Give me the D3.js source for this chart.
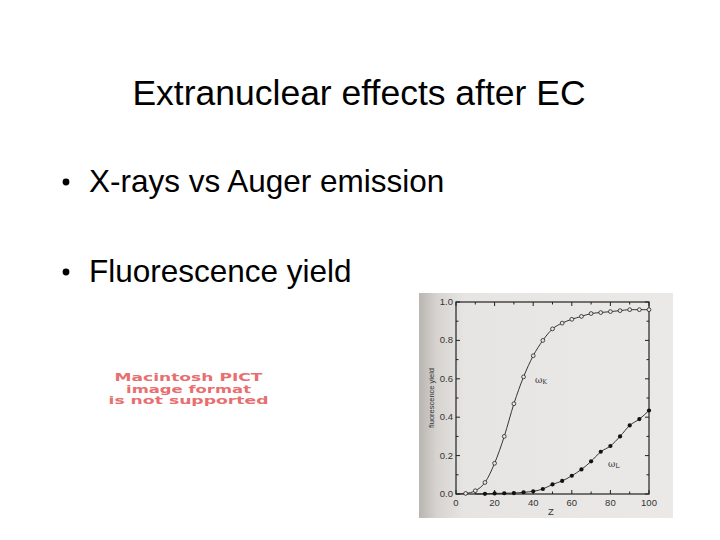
<!DOCTYPE html>
<html><head><meta charset="utf-8">
<script src="https://cdn.jsdelivr.net/npm/d3@7"></script>
<style>html,body{margin:0;padding:0;background:#fff;}svg{display:block;}</style>
</head><body>
<script>
const title = "Extranuclear effects after EC";
const bullets = ["X-rays vs Auger emission", "Fluorescence yield"];
const pictLines = ["Macintosh PICT", "image format", "is not supported"];

const zK = [5,10,15,20,25,30,35,40,45,50,55,60,65,70,75,80,85,90,95,100];
const omegaK = [0.003,0.017,0.06,0.16,0.30,0.47,0.61,0.72,0.80,0.86,0.89,0.91,0.925,0.94,0.945,0.95,0.955,0.96,0.96,0.96];
const zL = [15,20,25,30,35,40,45,50,55,60,65,70,75,80,85,90,95,100];
const omegaL = [0.001,0.003,0.004,0.005,0.009,0.014,0.026,0.05,0.068,0.095,0.128,0.17,0.22,0.25,0.30,0.357,0.39,0.435];
const xTicks = [0,20,40,60,80,100];
const yTicks = [0,0.2,0.4,0.6,0.8,1.0];

const W=720,H=540;
const svg = d3.select("body").append("svg").attr("width",W).attr("height",H);
svg.append("rect").attr("width",W).attr("height",H).attr("fill","#fff");

const font = "'Liberation Sans', Arial, sans-serif";
svg.append("text").attr("x",359).attr("y",105).attr("text-anchor","middle")
  .attr("font-family",font).attr("font-size",35.5).attr("fill","#000").text(title);

const by=[192,282];
bullets.forEach((b,i)=>{
  svg.append("circle").attr("cx",66).attr("cy",by[i]-10).attr("r",3.4).attr("fill","#000");
  svg.append("text").attr("x",89).attr("y",by[i]).attr("font-family",font).attr("font-size",31.5).attr("fill","#000").text(b);
});

const pb=[381,393,404];
const pw=[148,125,160];
pictLines.forEach((t,i)=>{
  svg.append("text").attr("x",188.5).attr("y",pb[i]).attr("text-anchor","middle")
    .attr("font-family","'DejaVu Sans', sans-serif").attr("font-weight","bold").attr("font-size",9.8)
    .attr("textLength",pw[i]).attr("lengthAdjust","spacingAndGlyphs")
    .attr("fill","#e86f6f").text(t);
});

// scanned figure background
const defs = svg.append("defs");
const grad = defs.append("linearGradient").attr("id","shade").attr("x1","0").attr("x2","1");
grad.append("stop").attr("offset","0").attr("stop-color","#b9b5b1");
grad.append("stop").attr("offset","0.07").attr("stop-color","#d6d3d0");
grad.append("stop").attr("offset","0.18").attr("stop-color","#e7e5e3");
grad.append("stop").attr("offset","1").attr("stop-color","#ebe9e7");
svg.append("rect").attr("x",419).attr("y",293).attr("width",254).attr("height",225).attr("fill","url(#shade)");

const x = d3.scaleLinear().domain([0,100]).range([456,649]);
const y = d3.scaleLinear().domain([0,1]).range([494,302]);
const g = svg.append("g");
g.append("rect").attr("x",x(0)).attr("y",y(1)).attr("width",x(100)-x(0)).attr("height",y(0)-y(1))
  .attr("fill","none").attr("stroke","#222").attr("stroke-width",1.2);

const sm = "'Liberation Sans', Arial, sans-serif";
const minorX = d3.range(0,101,10), minorY = d3.range(0,1.01,0.1);
minorX.forEach(v=>{
  const L = (v%20===0)?4:2.5;
  g.append("line").attr("x1",x(v)).attr("x2",x(v)).attr("y1",y(0)).attr("y2",y(0)-L).attr("stroke","#222");
  g.append("line").attr("x1",x(v)).attr("x2",x(v)).attr("y1",y(1)).attr("y2",y(1)+L).attr("stroke","#222");
});
minorY.forEach(v=>{
  const L = (Math.round(v*10)%2===0)?4:2.5;
  g.append("line").attr("x1",x(0)).attr("x2",x(0)+L).attr("y1",y(v)).attr("y2",y(v)).attr("stroke","#222");
  g.append("line").attr("x1",x(100)).attr("x2",x(100)-L).attr("y1",y(v)).attr("y2",y(v)).attr("stroke","#222");
});
xTicks.forEach(v=>{
  g.append("text").attr("x",x(v)).attr("y",506).attr("text-anchor","middle").attr("font-family",sm)
    .attr("font-size",9.5).attr("fill","#333").text(v);
});
yTicks.forEach(v=>{
  g.append("text").attr("x",x(0)-3).attr("y",y(v)+3).attr("text-anchor","end").attr("font-family",sm)
    .attr("font-size",9.5).attr("fill","#333").text(v.toFixed(1));
});
g.append("text").attr("x",551).attr("y",515).attr("text-anchor","middle").attr("font-family",sm)
  .attr("font-size",9.5).attr("fill","#333").text("Z");
g.append("text").attr("transform","translate(434,398) rotate(-90)").attr("text-anchor","middle")
  .attr("font-family",sm).attr("font-size",7.5).attr("fill","#333").text("fluorescence yield");

const line = d3.line().x(d=>x(d[0])).y(d=>y(d[1])).curve(d3.curveMonotoneX);
const dK = zK.map((z,i)=>[z,omegaK[i]]);
const dL = zL.map((z,i)=>[z,omegaL[i]]);
g.append("path").datum([[0,0]].concat(dK)).attr("d",line).attr("fill","none").attr("stroke","#222").attr("stroke-width",0.9);
g.append("path").datum([[10,0]].concat(dL)).attr("d",line).attr("fill","none").attr("stroke","#222").attr("stroke-width",0.9);
g.selectAll(".k").data(dK).join("circle").attr("cx",d=>x(d[0])).attr("cy",d=>y(d[1])).attr("r",1.9)
  .attr("fill","#e9e7e5").attr("stroke","#222").attr("stroke-width",0.8);
g.selectAll(".l").data(dL).join("circle").attr("cx",d=>x(d[0])).attr("cy",d=>y(d[1])).attr("r",2.1)
  .attr("fill","#111");

g.append("text").attr("x",535).attr("y",383).attr("font-family","'DejaVu Serif', serif").attr("font-size",9).attr("fill","#333")
  .html("ω<tspan font-size='6.5' dy='1'>K</tspan>");
g.append("text").attr("x",608).attr("y",467).attr("font-family","'DejaVu Serif', serif").attr("font-size",9).attr("fill","#333")
  .html("ω<tspan font-size='6.5' dy='1'>L</tspan>");
</script>
</body></html>
